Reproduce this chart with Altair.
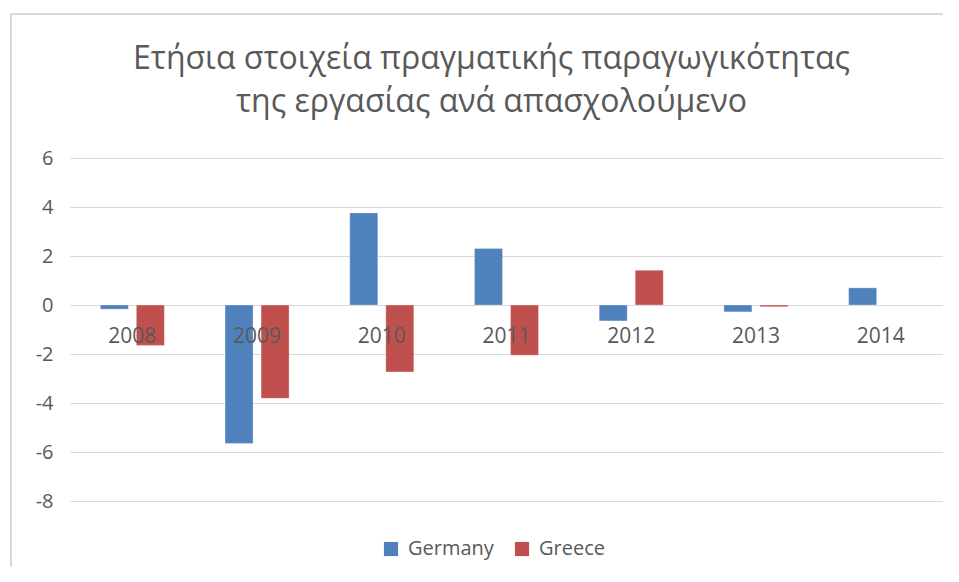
import altair as alt
import pandas as pd

years = ["2008", "2009", "2010", "2011", "2012", "2013", "2014"]
germany = [-0.17, -5.65, 3.76, 2.31, -0.65, -0.28, 0.70]
greece = [-1.65, -3.81, -2.73, -2.05, 1.42, -0.07, None]
series = ["Germany", "Greece"]
colors = ["#4F81BD", "#C0504D"]
title_lines = ["Ετήσια στοιχεία πραγματικής παραγωγικότητας", "της εργασίας ανά απασχολούμενο"]

rows = []
for i, y in enumerate(years):
    rows.append({"year": y, "country": "Germany", "value": germany[i]})
    if greece[i] is not None:
        rows.append({"year": y, "country": "Greece", "value": greece[i]})
df = pd.DataFrame(rows)
labels_df = pd.DataFrame({"year": years, "zero": [0] * len(years)})

FONT = "Open Sans"
GRAY = "#595959"

x_scale = alt.Scale(domain=years, paddingInner=0.4866, paddingOuter=0.2433)

bars = alt.Chart(df).mark_bar(stroke="white", strokeWidth=0.5, strokeOpacity=0.6).encode(
    x=alt.X("year:N", scale=x_scale, axis=None),
    xOffset=alt.XOffset("country:N", scale=alt.Scale(domain=series, paddingInner=0.2222, paddingOuter=0)),
    y=alt.Y("value:Q", scale=alt.Scale(domain=[-8, 6], nice=False),
            axis=alt.Axis(values=list(range(-8, 7, 2)), title=None, ticks=False, domain=False,
                          gridColor="#D9D9D9", gridWidth=1, labelColor=GRAY, labelFontSize=20,
                          labelFont=FONT, labelPadding=17,
                          labelExpr="datum.value < 0 ? '-' + abs(datum.value) : '' + datum.value")),
    color=alt.Color("country:N", scale=alt.Scale(domain=series, range=colors),
                    legend=alt.Legend(orient="none", legendX=311, legendY=381, direction="horizontal",
                                      title=None, symbolType="square", symbolSize=200,
                                      symbolStrokeWidth=0, labelFontSize=20, labelFont=FONT,
                                      labelColor=GRAY, columnPadding=18, labelOffset=7)),
)

year_text = alt.Chart(labels_df).mark_text(dy=32, fontSize=21, font=FONT, color=GRAY).encode(
    x=alt.X("year:N", scale=x_scale, axis=None),
    y=alt.Y("zero:Q"),
    text="year:N",
)

border = alt.Chart(labels_df).mark_rect(fill=None, stroke="#D9D9D9", strokeWidth=2).encode(
    x=alt.value(-59), x2=alt.value(930), y=alt.value(-144), y2=alt.value(440)
).transform_filter(alt.datum.year == "2008")

chart = alt.layer(border, bars, year_text).properties(
    width=873,
    height=343,
    title=alt.TitleParams(text=title_lines, fontSize=32, font=FONT, fontWeight="normal",
                          color=GRAY, anchor="middle", lineHeight=43, offset=-106, dx=-15),
    autosize=alt.AutoSizeParams(type="none"),
    padding={"left": 62, "top": 150, "right": 0, "bottom": 66},
).configure_view(stroke=None)

chart.save("out.html", embed_options={"renderer": "svg", "actions": False})
